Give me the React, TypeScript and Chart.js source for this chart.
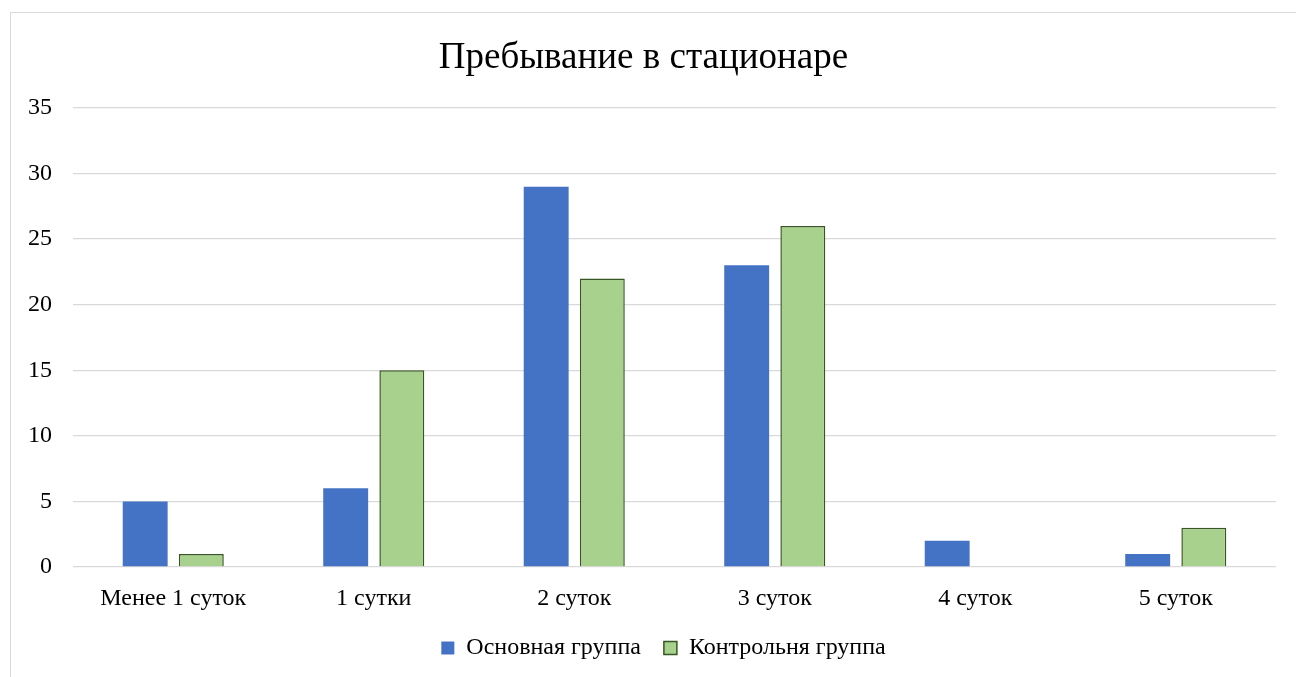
import React, { useEffect, useRef } from "react";
import { Chart, registerables } from "chart.js";

Chart.register(...registerables);

const categories = ["Менее 1 суток", "1 сутки", "2 суток", "3 суток", "4 суток", "5 суток"];
const mainGroup = [5, 6, 29, 23, 2, 1];
const controlGroup = [1, 15, 22, 26, 0, 3];
const seriesNames = ["Основная группа", "Контрольня группа"];
const titleText = "Пребывание в стационаре";

const FONT = "'Liberation Serif', 'Times New Roman', serif";

const legendShift = {
  id: "legendShift",
  afterLayout(chart: any) {
    if (chart.legend) {
      chart.legend.left += 20;
      chart.legend.right += 20;
    }
  },
};

export default function App() {
  const ref = useRef<HTMLCanvasElement | null>(null);
  useEffect(() => {
    if (!ref.current) return;
    const chart = new Chart(ref.current, {
      type: "bar",
      data: {
        labels: categories,
        datasets: [
          {
            label: seriesNames[0],
            data: mainGroup,
            backgroundColor: "#4472C4",
            borderColor: "#4472C4",
            borderWidth: 0,
            categoryPercentage: 0.56,
            barPercentage: 0.8,
          },
          {
            label: seriesNames[1],
            data: controlGroup,
            backgroundColor: "#A9D18E",
            borderColor: "#375623",
            borderWidth: 1.5,
            categoryPercentage: 0.56,
            barPercentage: 0.8,
          },
        ],
      },
      options: {
        animation: false,
        responsive: false,
        maintainAspectRatio: false,
        layout: { padding: { left: 0, right: 20, top: 0, bottom: 7 } },
        plugins: {
          title: {
            display: true,
            text: titleText,
            color: "#000000",
            font: { family: FONT, size: 37, weight: "normal" },
            padding: { top: 23, bottom: 27.6 },
          },
          legend: {
            position: "bottom",
            labels: {
              color: "#000000",
              font: { family: FONT, size: 24 },
              boxWidth: 13,
              boxHeight: 13,
              padding: 23,
              useBorderRadius: false,
            },
          },
          tooltip: { enabled: false },
        },
        scales: {
          x: {
            grid: { display: false, drawTicks: false },
            border: { display: false },
            ticks: {
              color: "#000000",
              font: { family: FONT, size: 24 },
              padding: 17,
              maxRotation: 0,
            },
            afterFit: (s: any) => {
              s.height = 46;
            },
          },
          y: {
            min: 0,
            max: 35,
            ticks: {
              stepSize: 5,
              color: "#000000",
              font: { family: FONT, size: 24 },
              padding: 21,
            },
            grid: { color: "#d9d9d9", lineWidth: 1.3, drawTicks: false },
            border: { display: false },
            afterFit: (s: any) => {
              s.width = 62;
            },
          },
        },
      },
      plugins: [legendShift],
    });
    return () => chart.destroy();
  }, []);
  return (
    <div
      style={{
        position: "fixed",
        left: 10,
        top: 12,
        width: 1285,
        height: 664,
        borderTop: "1px solid #d9d9d9",
        borderLeft: "1px solid #d9d9d9",
        background: "#fff",
      }}
    >
      <canvas ref={ref} width={1285} height={664} style={{ display: "block" }} />
    </div>
  );
}
